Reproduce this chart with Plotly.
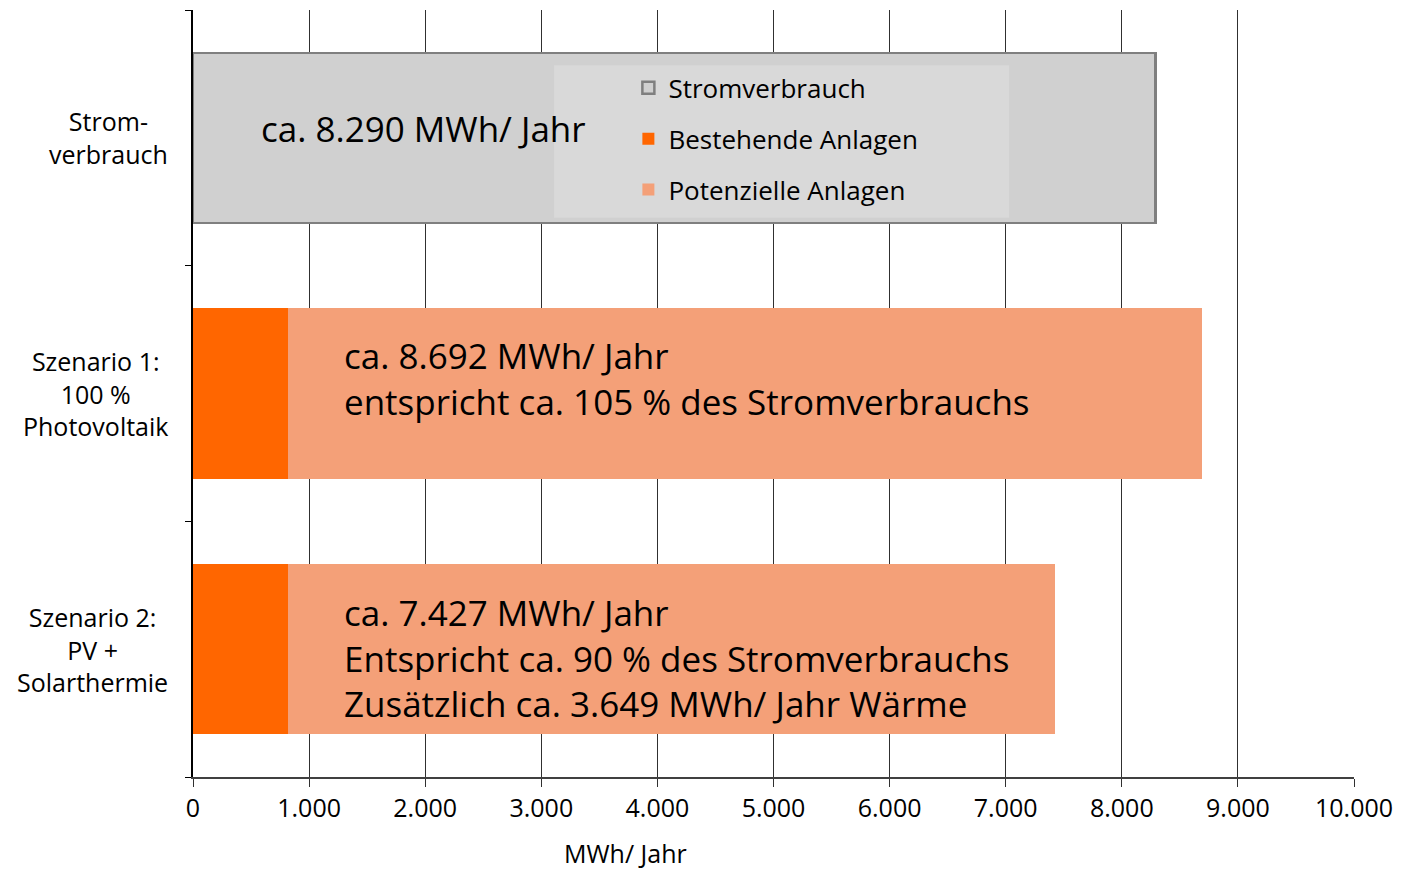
import plotly.graph_objects as go

categories = ["Szenario 2", "Szenario 1", "Stromverbrauch"]
cat_labels = ["Szenario 2:<br>PV +<br>Solarthermie", "Szenario 1:<br>100 %<br>Photovoltaik", "Strom-<br>verbrauch"]
strom = [None, None, 8290]
bestehend = [818, 818, None]
potenziell = [7427 - 818, 8692 - 818, None]
x_ticks = list(range(0, 10001, 1000))

bar_texts = [
    "ca. 7.427 MWh/ Jahr<br>Entspricht ca. 90 % des Stromverbrauchs<br>Zusätzlich ca. 3.649 MWh/ Jahr Wärme",
    "ca. 8.692 MWh/ Jahr<br>entspricht ca. 105 % des Stromverbrauchs",
    "ca. 8.290 MWh/ Jahr",
]

FONT = "Open Sans"
fig = go.Figure()
fig.add_trace(go.Bar(y=categories, x=bestehend, orientation="h", name="Bestehende Anlagen",
                     marker=dict(color="#ff6600", line=dict(width=0)), legendgroup="b", legendrank=2))
fig.add_trace(go.Bar(y=categories, x=potenziell, orientation="h", name="Potenzielle Anlagen",
                     marker=dict(color="#f4a078", line=dict(width=0)), legendgroup="p", legendrank=3))
fig.add_trace(go.Bar(y=categories, x=strom, orientation="h", name="Stromverbrauch",
                     marker=dict(color="#d0d0d0", line=dict(color="#7f7f7f", width=2.5)),
                     legendgroup="s", legendrank=1))

# legend background box
fig.add_shape(type="rect", xref="paper", yref="paper", x0=0.311, x1=0.703, y0=0.729, y1=0.928,
              fillcolor="#d9d9d9", line=dict(width=0), layer="above")

annotations = []
for cat, lab in zip(categories, cat_labels):
    annotations.append(dict(x=-0.02, xref="paper", y=cat, yref="y", text=lab, showarrow=False,
                            xanchor="right", yanchor="middle", align="center",
                            font=dict(family=FONT, size=25, color="#000")))
shifts = [-9, 15, 9]
xs = [1283, 1283, 568]
for cat, t, ys, xx in zip(categories, bar_texts, shifts, xs):
    annotations.append(dict(x=xx, y=cat, text=t, showarrow=False, xanchor="left", yanchor="middle",
                            align="left", yshift=ys, font=dict(family=FONT, size=35, color="#000")))
annotations.append(dict(x=(625 - 193) / 1161 * 10000, xref="x", y=-0.099, yref="paper", text="MWh/ Jahr",
                        showarrow=False, xanchor="center", yanchor="middle",
                        font=dict(family=FONT, size=25, color="#000")))

fig.update_layout(
    barmode="stack",
    bargap=0.335,
    width=1408, height=870,
    margin=dict(l=185, r=62, t=2, b=101),
    paper_bgcolor="white", plot_bgcolor="white",
    separators=",.",
    font=dict(family=FONT, size=22, color="#000"),
    showlegend=True,
    legend=dict(x=0.375, y=0.929, xanchor="left", yanchor="top", bgcolor="rgba(0,0,0,0)",
                traceorder="grouped", tracegroupgap=14, font=dict(family=FONT, size=26, color="#000")),
    annotations=annotations,
    xaxis=dict(range=[0, 10000], tickvals=x_ticks, tickformat=",d", showgrid=True, gridcolor="#303030",
               gridwidth=1, showline=True, linecolor="#404040", linewidth=1.5, ticks="outside",
               ticklen=8, tickcolor="#303030", zeroline=False, tickfont=dict(size=25)),
    yaxis=dict(categoryorder="array", categoryarray=categories, range=[-0.5, 2.5], showticklabels=False,
               showline=True, linecolor="#000", linewidth=1.5, ticks="outside", tickson="boundaries",
               ticklen=6, tickcolor="#000", showgrid=False, zeroline=False),
)
fig.write_html("out.html")
